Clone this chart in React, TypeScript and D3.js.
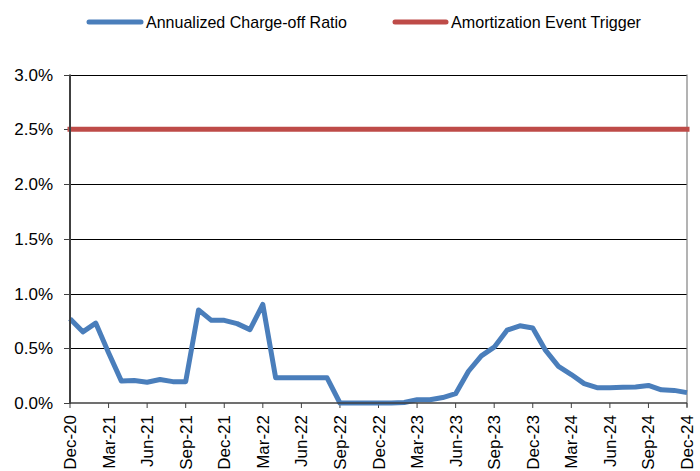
import React from "react";
import * as d3 from "d3";

const months = [
  "Dec-20","Jan-21","Feb-21","Mar-21","Apr-21","May-21","Jun-21","Jul-21","Aug-21","Sep-21","Oct-21","Nov-21",
  "Dec-21","Jan-22","Feb-22","Mar-22","Apr-22","May-22","Jun-22","Jul-22","Aug-22","Sep-22","Oct-22","Nov-22",
  "Dec-22","Jan-23","Feb-23","Mar-23","Apr-23","May-23","Jun-23","Jul-23","Aug-23","Sep-23","Oct-23","Nov-23",
  "Dec-23","Jan-24","Feb-24","Mar-24","Apr-24","May-24","Jun-24","Jul-24","Aug-24","Sep-24","Oct-24","Nov-24",
  "Dec-24",
];

const chargeOff = [
  0.77, 0.65, 0.73, 0.46, 0.20, 0.205, 0.19, 0.215, 0.195, 0.195, 0.85, 0.755,
  0.755, 0.725, 0.67, 0.90, 0.23, 0.23, 0.23, 0.23, 0.23, 0.0, 0.0, 0.0,
  0.0, 0.0, 0.005, 0.03, 0.03, 0.05, 0.085, 0.29, 0.43, 0.51, 0.665, 0.705,
  0.685, 0.48, 0.335, 0.26, 0.177, 0.14, 0.14, 0.143, 0.147, 0.16, 0.12, 0.115,
  0.095,
];

const trigger = months.map(() => 2.5);

const yTicks = [0, 0.5, 1.0, 1.5, 2.0, 2.5, 3.0];
const xTickLabels = months.filter((_, i) => i % 3 === 0);

const BLUE = "#4a7ebb";
const RED = "#be4b48";
const FONT = "'Liberation Sans', Arial, sans-serif";

export default function App() {
  const W = 700, H = 471;
  const left = 70, right = 687, top = 74.5, bottom = 403;
  const x = d3.scalePoint<string>().domain(months).range([left, right]);
  const y = d3.scaleLinear().domain([0, 3]).range([bottom, top]);

  const line = d3
    .line<number>()
    .x((_, i) => x(months[i]) as number)
    .y((d) => y(d));

  return (
    <svg
      width={W}
      height={H}
      style={{ position: "absolute", left: 0, top: 0, display: "block" }}
      fontFamily={FONT}
    >
      <rect width={W} height={H} fill="#fff" />
      {/* legend */}
      <line x1={89} x2={141} y1={22} y2={22} stroke={BLUE} strokeWidth={5} strokeLinecap="round" />
      <text x={146} y={28} fontSize={17} fill="#000" textLength={201} lengthAdjust="spacingAndGlyphs">Annualized Charge-off Ratio</text>
      <line x1={395} x2={446} y1={22} y2={22} stroke={RED} strokeWidth={5} strokeLinecap="round" />
      <text x={451} y={28} fontSize={17} fill="#000" textLength={190} lengthAdjust="spacingAndGlyphs">Amortization Event Trigger</text>

      {/* gridlines */}
      {yTicks.filter((t) => t > 0).map((t) => (
        <line key={t} x1={left} x2={right} y1={Math.round(y(t)) + 0.5} y2={Math.round(y(t)) + 0.5} stroke="#000" strokeWidth={1} />
      ))}
      {/* y ticks and labels */}
      {yTicks.map((t) => (
        <g key={"yt" + t}>
          <line x1={left - 6} x2={left} y1={Math.round(y(t)) + 0.5} y2={Math.round(y(t)) + 0.5} stroke="#404040" strokeWidth={1} />
          <text x={53} y={y(t) + 6} fontSize={17} textAnchor="end" fill="#000">
            {t.toFixed(1) + "%"}
          </text>
        </g>
      ))}
      {/* right axis */}
      <line x1={right} x2={right} y1={top} y2={bottom + 4} stroke="#808080" strokeWidth={1.2} />
      {/* x ticks and labels */}
      {xTickLabels.map((m) => (
        <g key={m}>
          <line x1={(x(m) as number)} x2={(x(m) as number)} y1={bottom} y2={bottom + 5} stroke="#404040" strokeWidth={1} />
          <text
            transform={`translate(${(x(m) as number) + 6},${bottom + 12}) rotate(-90)`}
            fontSize={17}
            textAnchor="end"
            fill="#000"
          >
            {m}
          </text>
        </g>
      ))}
      {/* series */}
      <path d={line(trigger) || ""} fill="none" stroke={RED} strokeWidth={5} strokeLinecap="square" />
      <path d={line(chargeOff) || ""} fill="none" stroke={BLUE} strokeWidth={5} strokeLinejoin="round" />
      {/* axes */}
      <line x1={left} x2={left} y1={top} y2={bottom + 1} stroke="#404040" strokeWidth={2} />
      <line x1={left} x2={right} y1={bottom} y2={bottom} stroke="#404040" strokeWidth={1.5} />
    </svg>
  );
}
